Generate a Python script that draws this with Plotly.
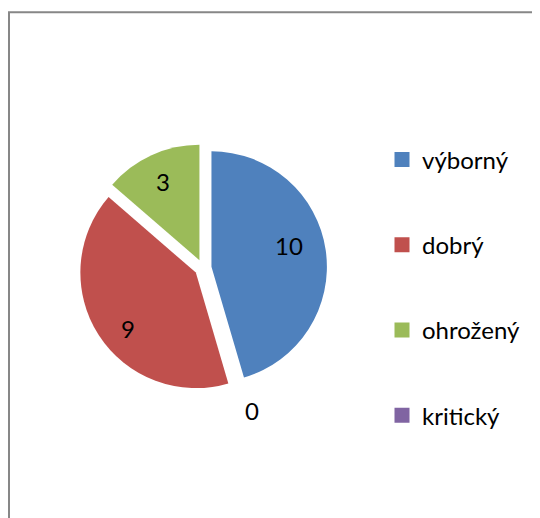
import math
import plotly.graph_objects as go

labels = ['výborný', 'dobrý', 'ohrožený', 'kritický']
values = [10, 9, 3, 0]
colors = ['#4F81BD', '#C0504D', '#9BBB59', '#8064A2']

FONT = 'Lato, "Noto Sans", sans-serif'
W, H = 532, 510  # page body keeps an 8px margin inside the 540x518 window

# pie placement (paper fractions)
dom_x = [0.1335, 0.5996]
dom_y = [0.2471, 0.7333]
pull = 0.074

# label placement per slice: degrees back from the mid angle, radius fraction
label_turn = [7, 7, 0, 0]
label_rad = [0.70, 0.76, 0.75, 1.305]
ZERO_ANGLE = 161  # where Excel drops the label of the empty slice

fig = go.Figure()
fig.add_trace(go.Pie(
    labels=labels, values=values,
    marker=dict(colors=colors, line=dict(width=0)),
    sort=False, direction='clockwise', rotation=0,
    pull=[pull] * len(values),
    textinfo='none',
    domain=dict(x=dom_x, y=dom_y),
    showlegend=False, hoverinfo='label+value',
))

total = sum(values)
cx = (dom_x[0] + dom_x[1]) / 2 * W
cy = (1 - (dom_y[0] + dom_y[1]) / 2) * H
half = min((dom_x[1] - dom_x[0]) * W, (dom_y[1] - dom_y[0]) * H) / 2
r = half / (1 + pull)
cum = 0
for i, v in enumerate(values):
    if v > 0:
        mid = math.radians(360 * (cum + v / 2) / total)
        ang = mid - math.radians(label_turn[i])
        ox = cx + pull * r * math.sin(mid)
        oy = cy - pull * r * math.cos(mid)
    else:
        ang = math.radians(ZERO_ANGLE)
        ox, oy = cx, cy
    px = ox + label_rad[i] * r * math.sin(ang)
    py = oy - label_rad[i] * r * math.cos(ang)
    fig.add_annotation(x=px / W, y=1 - py / H, xref='paper', yref='paper',
                       xanchor='center', yanchor='middle',
                       text=str(v), showarrow=False,
                       font=dict(family=FONT, size=24, color='black'))
    cum += v

# legend entries (separate groups for the wide Excel-style spacing)
for lab, c in zip(labels, colors):
    fig.add_trace(go.Scatter(
        x=[None], y=[None], mode='markers', name=lab, legendgroup=lab,
        marker=dict(symbol='square', size=15, color=c),
        hoverinfo='skip',
    ))

fig.add_shape(type='rect', xref='paper', yref='paper',
              x0=1 / W, x1=1.05, y0=-0.05, y1=1 - 4.3 / H,
              line=dict(color='#878787', width=2))

fig.update_layout(
    width=W, height=H,
    margin=dict(l=0, r=0, t=0, b=0),
    paper_bgcolor='white', plot_bgcolor='white',
    xaxis=dict(visible=False), yaxis=dict(visible=False),
    showlegend=True,
    legend=dict(x=374 / W, y=1 - 129.5 / H, xanchor='left', yanchor='top',
                font=dict(family=FONT, size=24, color='black'),
                tracegroupgap=51, bgcolor='rgba(0,0,0,0)'),
)

fig.write_html("out.html")
